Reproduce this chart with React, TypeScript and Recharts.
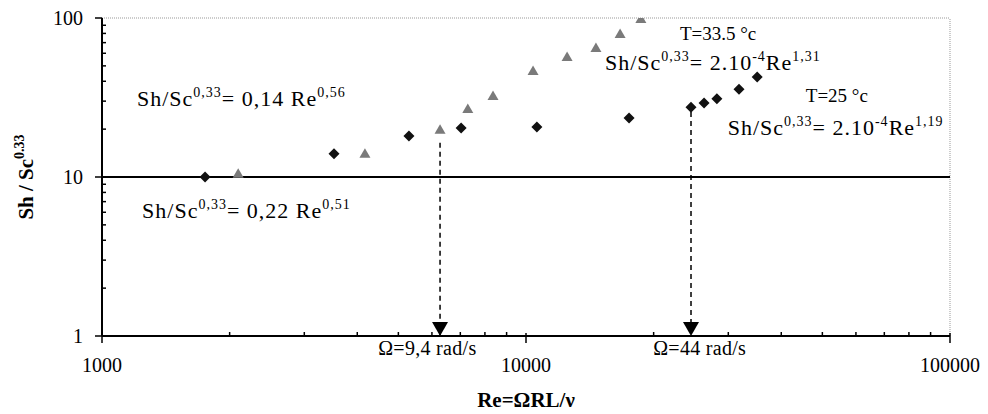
import {
  Label,
  ReferenceDot,
  ReferenceLine,
  Scatter,
  ScatterChart,
  XAxis,
  YAxis,
} from "recharts";

// T = 25 °C (black diamonds)
const reT25 = [1750, 3525, 5296, 7030, 10610, 17500, 24500, 26300, 28200, 31800, 35100];
const shT25 = [10.0, 14.0, 18.1, 20.3, 20.6, 23.5, 27.5, 29.2, 31.0, 35.7, 42.5];

// T = 33.5 °C (grey triangles)
const reT335 = [2095, 4170, 6270, 7290, 8360, 10390, 12500, 14620, 16670, 18660];
const shT335 = [10.5, 14.0, 19.8, 26.8, 32.3, 46.4, 56.9, 64.7, 79.3, 98.6];

// log axis ticks (major ones get labels)
const xMajor = [1000, 10000, 100000];
const xTicks = [
  1000, 2000, 3000, 4000, 5000, 6000, 7000, 8000, 9000,
  10000, 20000, 30000, 40000, 50000, 60000, 70000, 80000, 90000, 100000,
];
const yMajor = [1, 10, 100];
const yTicks = [1, 2, 3, 4, 5, 6, 7, 8, 9, 10, 20, 30, 40, 50, 60, 70, 80, 90, 100];

// rotation speed markers
const omegaRe = [6270, 24500];
const omegaFromSh = [16.4, 25.6];
const omegaText = ["Ω=9,4 rad/s", "Ω=44 rad/s"];
const omegaTextRe = [4480, 19950];
const omegaTextSh = [0.76, 0.76];

// correlation annotations: [text, superscript?] parts
const noteRe = [1209, 1243, 23070, 15350, 45700, 29900];
const noteSh = [27.96, 5.52, 72.7, 47.1, 29.6, 18.4];
const noteParts: [string, boolean][][] = [
  [["Sh/Sc", false], ["0,33", true], ["= 0,14 Re", false], ["0,56", true]],
  [["Sh/Sc", false], ["0,33", true], ["= 0,22 Re", false], ["0,51", true]],
  [["T=33.5 °c", false]],
  [["Sh/Sc", false], ["0,33", true], ["= 2.10", false], ["-4", true], ["Re", false], ["1,31", true]],
  [["T=25 °c", false]],
  [["Sh/Sc", false], ["0,33", true], ["= 2.10", false], ["-4", true], ["Re", false], ["1,19", true]],
];

const serif = '"Liberation Serif", "Times New Roman", serif';

const t25 = reT25.map((x, i) => ({ x, y: shT25[i] }));
const t335 = reT335.map((x, i) => ({ x, y: shT335[i] }));
const arrows = omegaRe.map((x) => ({ x, y: 1 }));

const Diamond = (p: any) => {
  const { cx, cy } = p;
  return (
    <polygon
      points={`${cx},${cy - 5.5} ${cx + 5.5},${cy} ${cx},${cy + 5.5} ${cx - 5.5},${cy}`}
      fill="#111"
    />
  );
};

const Tri = (p: any) => {
  const { cx, cy } = p;
  return (
    <polygon
      points={`${cx},${cy - 5.5} ${cx + 5.5},${cy + 4} ${cx - 5.5},${cy + 4}`}
      fill="#7a7a7a"
    />
  );
};

const ArrowHead = (p: any) => {
  const { cx, cy } = p;
  return (
    <polygon points={`${cx - 8},${cy - 14} ${cx + 8},${cy - 14} ${cx},${cy}`} fill="#000" />
  );
};

const RichText = ({ x, y, parts, size, spacing = 1 }: any) => {
  let lifted = false;
  return (
    <text x={x} y={y} fontFamily={serif} fontSize={size} fill="#000" letterSpacing={spacing}>
      {parts.map(([s, sup]: [string, boolean], i: number) => {
        let dy = 0;
        if (sup && !lifted) dy = -9;
        if (!sup && lifted) dy = 9;
        lifted = sup;
        return (
          <tspan key={i} dy={dy} fontSize={sup ? 14 : size}>
            {s}
          </tspan>
        );
      })}
    </text>
  );
};

const XTick = (p: any) => {
  const { x, y, payload } = p;
  const major = xMajor.includes(payload.value);
  return (
    <g>
      <line
        x1={x}
        x2={x}
        y1={major ? y - 3 : y - 4}
        y2={major ? y + 7 : y}
        stroke="#000"
        strokeWidth={1.5}
      />
      {major && (
        <text x={x} y={y + 36} textAnchor="middle" fontFamily={serif} fontSize={20} fill="#000">
          {payload.value}
        </text>
      )}
    </g>
  );
};

const YTick = (p: any) => {
  const { x, y, payload } = p;
  const major = yMajor.includes(payload.value);
  return (
    <g>
      <line
        x1={major ? x - 7 : x}
        x2={major ? x : x + 4}
        y1={y}
        y2={y}
        stroke="#000"
        strokeWidth={1.5}
      />
      {major && (
        <text x={x - 19} y={y + 7} textAnchor="end" fontFamily={serif} fontSize={20} fill="#000">
          {payload.value}
        </text>
      )}
    </g>
  );
};

const YTitle = (p: any) => {
  const vb = p.viewBox;
  const cx = vb.x + 33;
  const cy = vb.y + vb.height / 2;
  return (
    <text
      x={cx}
      y={cy}
      transform={`rotate(-90, ${cx}, ${cy})`}
      textAnchor="middle"
      fontFamily={serif}
      fontWeight="bold"
      fontSize={21}
      fill="#000"
    >
      Sh / Sc
      <tspan dy={-9} fontSize={14}>
        0.33
      </tspan>
    </text>
  );
};

const XTitle = (p: any) => {
  const vb = p.viewBox;
  return (
    <text
      x={vb.x + vb.width / 2}
      y={vb.y + 71}
      textAnchor="middle"
      fontFamily={serif}
      fontWeight="bold"
      fontSize={21}
      fill="#000"
    >
      Re=ΩRL/ν
    </text>
  );
};

export default function App() {
  return (
    <div style={{ position: "absolute", left: 0, top: 0, background: "#fff" }}>
      <ScatterChart
        width={988}
        height={414}
        margin={{ top: 18, right: 38, bottom: 0, left: 0 }}
      >
        <XAxis
          dataKey="x"
          type="number"
          scale="log"
          domain={[1000, 100000]}
          allowDataOverflow
          ticks={xTicks}
          interval={0}
          tick={<XTick />}
          tickSize={0}
          tickMargin={0}
          tickLine={false}
          axisLine={{ stroke: "#000", strokeWidth: 2 }}
          height={78}
        >
          <Label content={<XTitle />} />
        </XAxis>
        <YAxis
          dataKey="y"
          type="number"
          scale="log"
          domain={[1, 100]}
          allowDataOverflow
          ticks={yTicks}
          interval={0}
          tick={<YTick />}
          tickSize={0}
          tickMargin={0}
          tickLine={false}
          axisLine={{ stroke: "#000", strokeWidth: 2 }}
          width={102}
        >
          <Label content={<YTitle />} />
        </YAxis>

        <ReferenceLine y={100} stroke="#999" strokeDasharray="1 1" />
        <ReferenceLine x={100000} stroke="#999" strokeDasharray="1 1" />
        <ReferenceLine y={10} stroke="#000" strokeWidth={2} />

        {omegaRe.map((re, i) => (
          <ReferenceLine
            key={`d${i}`}
            segment={[
              { x: re, y: omegaFromSh[i] },
              { x: re, y: 1 },
            ]}
            stroke="#000"
            strokeWidth={1.5}
            strokeDasharray="5 4"
          />
        ))}

        <Scatter data={t25} shape={<Diamond />} isAnimationActive={false} />
        <Scatter data={t335} shape={<Tri />} isAnimationActive={false} />
        <Scatter data={arrows} shape={<ArrowHead />} isAnimationActive={false} />

        {noteRe.map((re, i) => {
          const small = i === 2 || i === 4;
          return (
            <ReferenceDot
              key={`n${i}`}
              x={re}
              y={noteSh[i]}
              r={0}
              ifOverflow="visible"
              shape={(p: any) => (
                <RichText
                  x={p.cx}
                  y={p.cy}
                  parts={noteParts[i]}
                  size={small ? 19 : 22}
                  spacing={small ? 0 : 1}
                />
              )}
            />
          );
        })}
        {omegaText.map((t, i) => (
          <ReferenceDot
            key={`o${i}`}
            x={omegaTextRe[i]}
            y={omegaTextSh[i]}
            r={0}
            ifOverflow="visible"
            shape={(p: any) => (
              <RichText x={p.cx} y={p.cy} parts={[[t, false]]} size={20} spacing={0.3} />
            )}
          />
        ))}
      </ScatterChart>
    </div>
  );
}
